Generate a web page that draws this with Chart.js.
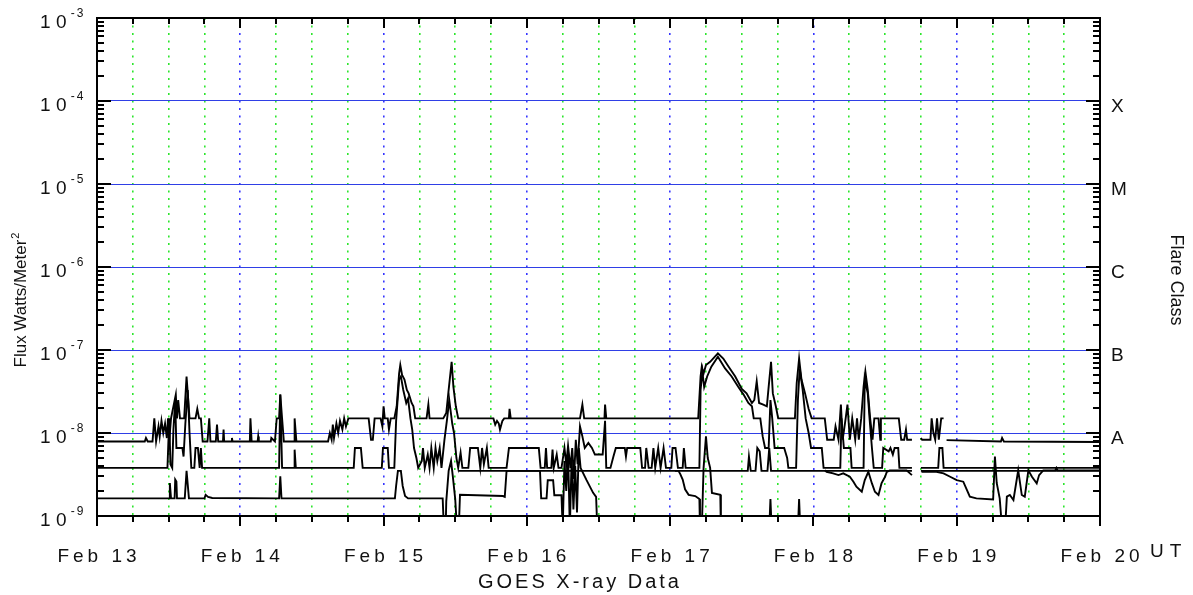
<!DOCTYPE html>
<html>
<head>
<meta charset="utf-8">
<title>GOES X-ray Data</title>
<script src="https://cdn.jsdelivr.net/npm/chart.js@4.4.1/dist/chart.umd.min.js"></script>
<style>
  html, body { margin: 0; padding: 0; background: #fff; }
  canvas { display: block; }
</style>
</head>
<body>
<canvas id="goes" width="1193" height="595"></canvas>
<script>
// [hours since Feb 13 00:00 UT, flux W/m^2]; null = data gap
const longA = [
  [0, 7.9e-9], [8.0, 7.9e-9], [8.2, 8.7e-9], [8.5, 7.9e-9], [9.3, 7.9e-9], [9.6, 1.5e-8], [9.9, 7.9e-9],
  [10.3, 1.2e-8], [10.5, 9.1e-9], [10.8, 1.4e-8], [11.1, 1.0e-8], [11.4, 1.3e-8], [11.7, 8.7e-9], [11.9, 1.5e-8],
  [12.2, 1.0e-8], [12.4, 1.5e-8], [13.2, 2.9e-8], [13.4, 1.5e-8], [13.6, 2.5e-8], [13.9, 1.5e-8], [14.6, 1.5e-8],
  [15.0, 4.8e-8], [15.5, 1.5e-8], [16.5, 1.5e-8], [16.8, 1.95e-8], [17.1, 1.5e-8], [17.4, 1.5e-8], [17.7, 7.9e-9],
  [18.5, 7.9e-9], [18.8, 1.5e-8], [19.0, 7.9e-9], [19.9, 7.9e-9], [20.1, 1.26e-8], [20.3, 7.9e-9], [21.1, 7.9e-9],
  [21.2, 1.1e-8], [21.3, 7.9e-9], [22.5, 7.9e-9], [22.6, 8.7e-9], [22.7, 7.9e-9], [25.6, 7.9e-9], [25.7, 1.5e-8],
  [25.9, 7.9e-9], [26.9, 7.9e-9], [27.0, 9.1e-9], [27.1, 7.9e-9], [29.1, 7.9e-9], [29.2, 8.7e-9], [29.8, 7.9e-9],
  [30.1, 1.5e-8], [30.5, 1.5e-8], [30.7, 2.9e-8], [31.0, 1.5e-8], [31.3, 7.9e-9], [33.0, 7.9e-9], [33.1, 1.5e-8],
  [33.4, 7.9e-9], [38.7, 7.9e-9], [39.0, 1.0e-8], [39.3, 8.3e-9], [39.5, 1.26e-8], [39.7, 8.7e-9], [40.1, 1.3e-8],
  [40.4, 1.0e-8], [40.7, 1.4e-8], [41.1, 1.1e-8], [41.4, 1.5e-8], [41.7, 1.2e-8], [42.1, 1.5e-8], [45.5, 1.5e-8],
  [45.9, 8.3e-9], [46.2, 8.3e-9], [46.5, 1.5e-8], [47.5, 1.5e-8], [47.8, 1.2e-8], [48.0, 2.1e-8], [48.2, 1.5e-8],
  [48.7, 1.5e-8], [48.9, 1.1e-8], [49.2, 1.5e-8], [49.8, 1.5e-8], [50.2, 2.1e-8], [50.6, 5.2e-8], [50.8, 6.6e-8],
  [51.1, 5.0e-8], [51.5, 4.4e-8], [51.9, 3.3e-8], [52.2, 3.0e-8], [52.7, 2.3e-8], [53.0, 2.1e-8], [53.3, 1.5e-8],
  [55.2, 1.5e-8], [55.5, 2.2e-8], [55.7, 1.5e-8], [58.0, 1.5e-8], [58.5, 1.74e-8], [58.9, 3.3e-8], [59.4, 7.2e-8],
  [59.7, 3.6e-8], [60.1, 2.1e-8], [60.5, 1.5e-8], [66.4, 1.5e-8], [66.7, 1.26e-8], [67.0, 1.4e-8], [67.3, 1.3e-8],
  [67.5, 1.1e-8], [67.9, 1.4e-8], [68.2, 1.5e-8], [69.0, 1.5e-8], [69.1, 1.95e-8], [69.3, 1.5e-8], [80.9, 1.5e-8],
  [81.3, 2.2e-8], [81.6, 1.5e-8], [85.0, 1.5e-8], [85.1, 2.2e-8], [85.3, 1.5e-8], [100.7, 1.5e-8], [101.1, 4.8e-8],
  [101.3, 6.3e-8], [101.6, 5.2e-8], [102.0, 6.6e-8], [102.7, 7.2e-8], [104.0, 9.1e-8], [104.9, 7.9e-8], [105.8, 6.3e-8],
  [106.9, 4.8e-8], [108.0, 3.4e-8], [108.8, 3.0e-8], [109.7, 2.3e-8], [110.1, 2.5e-8], [110.5, 4.2e-8], [110.9, 2.3e-8],
  [111.6, 2.2e-8], [112.2, 2.1e-8], [112.5, 3.6e-8], [112.9, 7.2e-8], [113.2, 3.0e-8], [113.7, 2.1e-8], [114.1, 1.5e-8],
  [116.9, 1.5e-8], [117.2, 4.0e-8], [117.6, 7.9e-8], [118.0, 4.4e-8], [118.6, 3.0e-8], [119.2, 1.95e-8], [119.7, 1.5e-8],
  [121.9, 1.5e-8], [122.3, 8.3e-9], [123.4, 8.3e-9], [123.7, 1.2e-8], [124.2, 8.3e-9], [124.6, 2.2e-8], [124.9, 8.3e-9],
  [125.4, 1.5e-8], [125.7, 2.2e-8], [126.1, 8.3e-9], [126.5, 1.5e-8], [127.0, 8.3e-9], [127.3, 1.5e-8], [127.6, 8.3e-9],
  [128.0, 1.5e-8], [128.4, 3.6e-8], [128.7, 5.5e-8], [129.1, 3.3e-8], [129.5, 1.5e-8], [129.9, 8.3e-9], [130.2, 1.5e-8],
  [130.9, 1.5e-8], [131.2, 8.3e-9], [131.3, 1.5e-8], [134.3, 1.5e-8], [134.7, 8.3e-9], [135.2, 8.3e-9], [135.5, 1.1e-8],
  [135.7, 8.3e-9], [136.5, 8.3e-9], [136.6, null], [138.0, 8.7e-9], [138.2, 8.3e-9], [139.6, 8.3e-9], [139.8, 1.5e-8],
  [140.1, 1.0e-8], [140.4, 8.3e-9], [140.7, 1.5e-8], [141.0, 8.3e-9], [141.4, 1.5e-8], [141.8, 1.5e-8], [142.0, null],
  [142.3, 8.2e-9], [151.4, 7.9e-9], [151.6, 8.7e-9], [151.9, 7.9e-9], [168, 7.8e-9]
];

const longB = [
  [0, 3.8e-9], [11.8, 3.8e-9], [12.1, 1.5e-8], [12.3, 4.2e-9], [12.6, 3.8e-9], [12.8, 1.1e-8], [13.1, 2.5e-8],
  [13.3, 6.6e-9], [14.3, 6.6e-9], [14.5, 5.2e-9], [14.8, 1.3e-8], [15.2, 3.3e-8], [15.5, 1.0e-8], [15.8, 3.8e-9],
  [16.3, 3.8e-9], [16.5, 6.6e-9], [16.9, 6.6e-9], [17.2, 3.8e-9], [17.4, 6.6e-9], [17.6, 3.8e-9], [30.5, 3.8e-9],
  [30.7, 2.9e-8], [31.0, 3.8e-9], [33.0, 3.8e-9], [33.1, 6.3e-9], [33.3, 3.8e-9], [43.0, 3.8e-9], [43.2, 6.6e-9],
  [44.2, 6.6e-9], [44.5, 3.8e-9], [47.7, 3.8e-9], [47.9, 6.6e-9], [48.7, 6.6e-9], [48.9, 3.8e-9], [49.8, 3.8e-9],
  [50.1, 1.4e-8], [50.6, 4.4e-8], [50.9, 4.8e-8], [51.3, 3.3e-8], [51.8, 2.3e-8], [52.1, 2.6e-8], [52.5, 1.5e-8],
  [52.8, 1.1e-8], [53.1, 6.6e-9], [53.5, 5.0e-9], [53.8, 3.8e-9], [54.4, 4.6e-9], [54.6, 6.6e-9], [54.9, 3.8e-9],
  [55.4, 5.5e-9], [55.7, 3.8e-9], [56.0, 6.6e-9], [56.4, 3.8e-9], [56.7, 6.6e-9], [57.0, 4.6e-9], [57.4, 6.6e-9],
  [57.7, 3.8e-9], [58.2, 8.3e-9], [58.6, 1.4e-8], [59.0, 2.5e-8], [59.5, 1.3e-8], [59.8, 1.0e-8], [60.2, 5.0e-9],
  [60.5, 3.8e-9], [60.9, 5.8e-9], [61.2, 3.8e-9], [62.2, 3.8e-9], [62.5, 6.6e-9], [63.8, 6.6e-9], [64.2, 3.8e-9],
  [64.5, 6.6e-9], [64.8, 4.2e-9], [65.3, 6.6e-9], [65.6, 3.8e-9], [68.6, 3.8e-9], [69.0, 6.6e-9], [74.0, 6.6e-9],
  [74.3, 3.8e-9], [75.0, 3.8e-9], [75.2, 6.6e-9], [75.4, 3.8e-9], [76.1, 3.8e-9], [76.3, 6.3e-9], [76.5, 3.8e-9],
  [77.0, 5.5e-9], [77.3, 3.8e-9], [77.8, 3.8e-9], [78.3, 6.6e-9], [78.6, 4.2e-9], [78.9, 7.0e-9], [79.3, 3.8e-9],
  [79.6, 6.6e-9], [79.9, 2.8e-9], [80.2, 8.3e-9], [80.5, 4.2e-9], [80.9, 1.2e-8], [81.3, 9.1e-9], [81.7, 6.6e-9],
  [82.3, 7.6e-9], [82.9, 6.6e-9], [83.4, 5.5e-9], [84.7, 5.5e-9], [85.1, 1.4e-8], [85.3, 3.8e-9], [86.0, 3.8e-9],
  [86.5, 5.2e-9], [86.9, 6.6e-9], [88.4, 6.6e-9], [88.6, 5.2e-9], [88.8, 6.6e-9], [91.0, 6.6e-9], [91.3, 3.8e-9],
  [91.8, 3.8e-9], [92.0, 6.6e-9], [92.4, 3.8e-9], [92.9, 3.8e-9], [93.2, 6.6e-9], [93.5, 3.8e-9], [94.0, 6.6e-9],
  [94.4, 3.8e-9], [94.9, 6.6e-9], [95.3, 3.8e-9], [96.2, 3.8e-9], [96.4, 6.6e-9], [96.9, 6.6e-9], [97.3, 3.8e-9],
  [98.1, 3.8e-9], [98.3, 6.6e-9], [98.6, 3.8e-9], [100.9, 3.8e-9], [101.1, 3.3e-8], [101.4, 5.5e-8], [101.7, 3.6e-8],
  [102.2, 4.8e-8], [102.9, 6.3e-8], [104.0, 8.3e-8], [105.2, 6.0e-8], [106.3, 4.8e-8], [107.4, 3.6e-8], [108.3, 2.9e-8],
  [109.1, 2.3e-8], [109.7, 2.1e-8], [110.0, 1.5e-8], [111.1, 1.5e-8], [111.5, 9.1e-9], [111.9, 6.6e-9], [112.5, 6.6e-9],
  [112.8, 2.5e-8], [113.1, 1.5e-8], [113.5, 6.6e-9], [115.1, 6.6e-9], [115.6, 5.0e-9], [115.8, 3.8e-9], [117.1, 3.8e-9],
  [117.4, 2.5e-8], [117.7, 6.0e-8], [118.2, 3.3e-8], [118.7, 1.5e-8], [119.2, 1.0e-8], [119.6, 6.6e-9], [121.4, 6.6e-9],
  [121.7, 3.8e-9], [124.5, 3.8e-9], [124.7, 1.5e-8], [125.1, 6.6e-9], [126.2, 6.6e-9], [126.4, 3.8e-9], [128.4, 3.8e-9],
  [128.6, 4.4e-8], [129.1, 3.0e-8], [129.4, 1.5e-8], [129.8, 6.6e-9], [130.1, 3.8e-9], [131.5, 3.8e-9], [131.7, 6.6e-9],
  [132.6, 6.0e-9], [132.9, 6.6e-9], [133.3, 5.5e-9], [133.6, 6.6e-9], [134.2, 6.6e-9], [134.4, 3.8e-9], [136.5, 3.8e-9],
  [136.6, null], [138.0, 3.8e-9], [140.9, 3.8e-9], [141.1, 6.6e-9], [141.6, 6.6e-9], [141.8, 3.8e-9], [168, 3.8e-9]
];

const shortB = [
  [60.5, 3.5e-9], [109.0, 3.5e-9], [109.2, 5.2e-9], [109.5, 3.5e-9], [110.3, 3.5e-9], [110.6, 6.6e-9], [111.0, 6.0e-9],
  [111.3, 3.5e-9], [112.3, 3.5e-9], [112.6, 6.6e-9], [112.9, 3.5e-9], [136.5, 3.5e-9], [136.6, null], [138.0, 3.5e-9],
  [168, 3.5e-9]
];

const shortA = [
  [0, 1.63e-9], [12.1, 1.63e-9], [12.2, 2.5e-9], [12.4, 1.63e-9], [13.0, 1.63e-9], [13.1, 2.75e-9], [13.3, 2.6e-9],
  [13.4, 1.63e-9], [14.7, 1.63e-9], [15.0, 3.5e-9], [15.4, 1.63e-9], [18.0, 1.63e-9], [18.2, 1.8e-9], [18.6, 1.7e-9],
  [19.3, 1.65e-9], [30.5, 1.63e-9], [30.7, 3.0e-9], [30.9, 1.63e-9], [49.9, 1.63e-9], [50.1, 2.3e-9], [50.4, 3.5e-9],
  [50.9, 3.5e-9], [51.2, 2.3e-9], [51.6, 1.74e-9], [52.1, 1.63e-9], [57.9, 1.63e-9], [58.1, 7e-10], [58.4, 7e-10],
  [58.5, 1.5e-9], [58.9, 3.5e-9], [59.3, 4.6e-9], [59.6, 3.0e-9], [60.0, 1.6e-9], [60.3, 7e-10], [60.6, 7e-10],
  [60.8, 1.8e-9], [68.0, 1.74e-9], [68.3, 1.7e-9], [68.6, 3.5e-9], [74.2, 3.5e-9], [74.4, 1.63e-9], [75.3, 1.63e-9],
  [75.5, 2.7e-9], [76.4, 2.7e-9], [76.6, 1.78e-9], [77.8, 1.78e-9], [78.0, 7e-10], [78.3, 4.6e-9], [78.6, 2.0e-9],
  [78.9, 6.0e-9], [79.2, 7e-10], [79.5, 5.0e-9], [79.8, 1.2e-9], [80.1, 4.0e-9], [80.4, 1.1e-9], [80.7, 6.6e-9],
  [81.0, 3.8e-9], [82.0, 2.7e-9], [83.1, 1.9e-9], [83.6, 1.7e-9], [83.8, 7e-10], [84.0, null], [96.8, 3.5e-9],
  [97.4, 3.5e-9], [97.7, 3.2e-9], [98.1, 2.75e-9], [98.5, 2.1e-9], [99.1, 1.8e-9], [100.2, 1.74e-9], [100.9, 1.6e-9],
  [101.0, 7e-10], [101.3, 7e-10], [101.6, 3.8e-9], [102.0, 9.1e-9], [102.3, 5.0e-9], [102.7, 3.8e-9], [103.0, 1.9e-9],
  [104.4, 1.8e-9], [104.5, 7e-10], [104.7, null], [112.6, 7e-10], [112.8, 1.6e-9], [113.0, 7e-10], [113.1, null],
  [117.4, 7e-10], [117.6, 1.6e-9], [117.8, 7e-10], [117.9, null], [121.9, 3.55e-9], [122.2, 3.41e-9], [123.3, 3.26e-9],
  [124.2, 3.11e-9], [125.0, 3.26e-9], [126.1, 2.97e-9], [126.7, 2.59e-9], [127.2, 2.25e-9], [128.1, 1.96e-9],
  [128.6, 2.71e-9], [129.2, 3.41e-9], [129.8, 2.47e-9], [130.3, 1.96e-9], [130.9, 1.79e-9], [131.4, 2.47e-9],
  [131.7, 2.71e-9], [132.0, 2.97e-9], [132.3, 3.41e-9], [132.8, 3.55e-9], [135.6, 3.55e-9], [136.5, 3.11e-9],
  [136.6, null], [138.1, 3.41e-9], [140.6, 3.41e-9], [141.8, 3.26e-9], [142.9, 2.97e-9], [144.0, 2.71e-9],
  [145.1, 2.59e-9], [145.7, 2.06e-9], [146.2, 1.71e-9], [147.3, 1.63e-9], [150.1, 1.58e-9], [150.4, 5.2e-9],
  [150.7, 2.5e-9], [151.2, 1.63e-9], [151.6, 7e-10], [152.1, 7e-10], [152.4, 1.71e-9], [152.9, 1.79e-9],
  [153.5, 1.56e-9], [154.3, 3.55e-9], [154.9, 1.79e-9], [155.4, 1.71e-9], [156.0, 3.55e-9], [156.6, 2.97e-9],
  [157.4, 2.47e-9], [157.8, 3.11e-9], [158.5, 3.55e-9], [160.5, 3.55e-9], [160.7, 3.8e-9], [160.9, 3.55e-9], [168, 3.55e-9]
];

// axes
const gridHours = [0, 6, 12, 18, 24, 30, 36, 42, 48, 54, 60, 66, 72, 78, 84, 90, 96, 102, 108, 114, 120, 126, 132, 138, 144, 150, 156, 162, 168];
const dayHours = [0, 24, 48, 72, 96, 120, 144, 168];
const dayLabels = ['Feb 13', 'Feb 14', 'Feb 15', 'Feb 16', 'Feb 17', 'Feb 18', 'Feb 19', 'Feb 20'];
const decades = [1e-9, 1e-8, 1e-7, 1e-6, 1e-5, 1e-4, 1e-3];
const decadeExps = ['-9', '-8', '-7', '-6', '-5', '-4', '-3'];
const flareClasses = ['', 'A', 'B', 'C', 'M', 'X', ''];
const minorSteps = [2, 3, 4, 5, 6, 7, 8, 9];

const FONT = '"Liberation Sans", Arial, Helvetica, sans-serif';
const DAY_BLUE = '#3636ff';
const SIX_GREEN = '#2ee62e';
const DECADE_BLUE = '#2f3fe6';

// text with extra spacing between letters, like the original plot
function spaced(ctx, str, x, y, gap) {
  let cx = x;
  for (const ch of str) {
    ctx.fillText(ch, cx, y);
    cx += ctx.measureText(ch).width + gap;
  }
  return cx - gap;
}
function spacedWidth(ctx, str, gap) {
  let w = 0;
  for (const ch of str) w += ctx.measureText(ch).width + gap;
  return w - gap;
}

const goesFrame = {
  id: 'goesFrame',
  afterDraw(chart) {
    const { ctx, chartArea: a } = chart;
    const xs = chart.scales.x;
    const ys = chart.scales.y;
    const seg = (x1, y1, x2, y2) => { ctx.beginPath(); ctx.moveTo(x1, y1); ctx.lineTo(x2, y2); ctx.stroke(); };

    ctx.save();
    ctx.strokeStyle = '#000';
    ctx.lineWidth = 2;

    // time ticks: outside at the bottom, inside at the top
    gridHours.forEach(h => {
      const px = Math.round(xs.getPixelForValue(h));
      const len = h % 24 === 0 ? 10 : 6;
      seg(px, a.bottom, px, a.bottom + len);
      seg(px, a.top, px, a.top + len);
    });

    // log ticks on both sides, pointing in
    decades.forEach((d, i) => {
      const steps = i < decades.length - 1 ? [1].concat(minorSteps) : [1];
      steps.forEach(k => {
        const py = Math.round(ys.getPixelForValue(d * k));
        const len = k === 1 ? 14 : 7;
        seg(a.left, py, a.left + len, py);
        seg(a.right, py, a.right - len, py);
      });
    });

    ctx.strokeRect(a.left, a.top, a.right - a.left, a.bottom - a.top);

    // labels
    ctx.fillStyle = '#111';
    ctx.textAlign = 'left';
    ctx.textBaseline = 'alphabetic';
    decades.forEach((d, i) => {
      const py = ys.getPixelForValue(d);
      ctx.font = '19px ' + FONT;
      const end = spaced(ctx, '10', 40, py + 9.5, 5.5);
      ctx.font = '12px ' + FONT;
      spaced(ctx, decadeExps[i], end + 4, py - 1, 2);
      if (flareClasses[i]) {
        ctx.font = '19px ' + FONT;
        ctx.fillText(flareClasses[i], a.right + 11, py + 10.5);
      }
    });

    ctx.font = '19px ' + FONT;
    dayHours.forEach((h, i) => {
      const px = xs.getPixelForValue(h);
      const w = spacedWidth(ctx, dayLabels[i], 4);
      spaced(ctx, dayLabels[i], px - w / 2, 562, 4);
    });
    spaced(ctx, 'UT', 1150, 557, 6);

    ctx.font = '20px ' + FONT;
    spaced(ctx, 'GOES X-ray Data', 478, 588, 3);

    // left title, reads bottom to top
    ctx.save();
    ctx.translate(26, 300);
    ctx.rotate(-Math.PI / 2);
    ctx.font = '17px ' + FONT;
    const main = 'Flux Watts/Meter';
    const wMain = ctx.measureText(main).width;
    ctx.font = '11px ' + FONT;
    const wSup = ctx.measureText('2').width;
    const u0 = -(wMain + 1 + wSup) / 2;
    ctx.font = '17px ' + FONT;
    ctx.fillText(main, u0, 0);
    ctx.font = '11px ' + FONT;
    ctx.fillText('2', u0 + wMain + 1, -7);
    ctx.restore();

    // right title, reads top to bottom
    ctx.save();
    ctx.translate(1171, 280);
    ctx.rotate(Math.PI / 2);
    ctx.font = '18px ' + FONT;
    const wFc = ctx.measureText('Flare Class').width;
    ctx.fillText('Flare Class', -wFc / 2, 0);
    ctx.restore();

    ctx.restore();
  }
};

const toPoints = arr => arr.map(([h, f]) => ({ x: h, y: f }));
const series = [
  { label: 'Long A', data: longA },
  { label: 'Long B', data: longB },
  { label: 'Short B', data: shortB },
  { label: 'Short A', data: shortA }
];

new Chart(document.getElementById('goes'), {
  type: 'line',
  data: {
    datasets: series.map(s => ({
      label: s.label,
      data: toPoints(s.data),
      borderColor: '#000',
      borderWidth: 1.9,
      pointRadius: 0,
      tension: 0,
      fill: false,
      spanGaps: false
    }))
  },
  options: {
    responsive: false,
    animation: false,
    layout: { padding: { left: 97, right: 93, top: 18, bottom: 79 } },
    plugins: { legend: { display: false }, tooltip: { enabled: false } },
    scales: {
      x: {
        type: 'linear',
        min: 0,
        max: 168,
        afterBuildTicks: axis => { axis.ticks = gridHours.map(v => ({ value: v })); },
        ticks: { display: false },
        grid: {
          drawTicks: false,
          lineWidth: 1.6,
          color: c => (c.tick && c.tick.value % 24 === 0) ? DAY_BLUE : SIX_GREEN
        },
        border: { display: false, dash: [2, 5.5] }
      },
      y: {
        type: 'logarithmic',
        min: 1e-9,
        max: 1e-3,
        afterBuildTicks: axis => { axis.ticks = decades.map(v => ({ value: v })); },
        ticks: { display: false },
        grid: {
          drawTicks: false,
          lineWidth: 1,
          color: c => (c.tick && c.tick.value > 1.5e-9 && c.tick.value < 5e-4) ? DECADE_BLUE : 'rgba(0,0,0,0)'
        },
        border: { display: false }
      }
    }
  },
  plugins: [goesFrame]
});
</script>
</body>
</html>
